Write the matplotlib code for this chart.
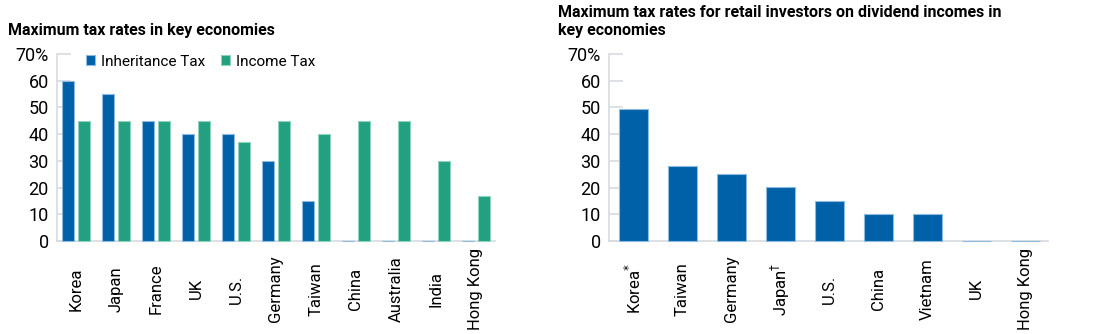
import matplotlib
matplotlib.use("Agg")
import matplotlib.pyplot as plt
import numpy as np

plt.rcParams["font.family"] = ["Roboto", "DejaVu Sans"]

# left panel data
countries_l = ["Korea", "Japan", "France", "UK", "U.S.", "Germany", "Taiwan",
               "China", "Australia", "India", "Hong Kong"]
inheritance = [60, 55, 45, 40, 40, 30, 15, 0, 0, 0, 0]
income = [45, 45, 45, 45, 37, 45, 40, 45, 45, 30, 17]

# right panel data
countries_r = ["Korea$^{*}$", "Taiwan", "Germany", "Japan$^{\\dagger}$", "U.S.",
               "China", "Vietnam", "UK", "Hong Kong"]
dividend = [49.5, 28, 25, 20.3, 15, 10, 10, 0, 0]

yticks = [0, 10, 20, 30, 40, 50, 60, 70]
ytick_labels = ["0", "10", "20", "30", "40", "50", "60", "70%"]

BLUE = "#0061a8"
GREEN = "#22a07f"
BLUE_EDGE = "#8dbbe0"
GREEN_EDGE = "#8fd3bf"
GRAY = "#d7dbe0"


def style_axis(ax):
    for s in ("top", "right"):
        ax.spines[s].set_visible(False)
    for s in ("left", "bottom"):
        ax.spines[s].set_color(GRAY)
        ax.spines[s].set_linewidth(1.2)
    ax.set_ylim(0, 70)
    ax.set_yticks(yticks)
    ax.set_yticklabels(ytick_labels)
    ax.tick_params(axis="y", direction="in", length=10, width=1.2, color=GRAY,
                   labelsize=13, pad=6)
    ax.tick_params(axis="x", length=0, labelsize=12, pad=34.5)
    for lbl in ax.get_xticklabels():
        lbl.set_rotation(90)
        lbl.set_va("center")
        lbl.set_ha("center")


fig = plt.figure(figsize=(11, 3.34), dpi=100)
ax1 = fig.add_axes([0.0518, 0.2784, 0.3982, 0.56])
ax2 = fig.add_axes([0.5536, 0.2784, 0.3991, 0.56])

x = np.arange(len(countries_l))
ax1.bar(x - 0.2, inheritance, width=0.3, color=BLUE, edgecolor=BLUE_EDGE,
        linewidth=0.8, label="Inheritance Tax", zorder=3, clip_on=False)
ax1.bar(x + 0.2, income, width=0.3, color=GREEN, edgecolor=GREEN_EDGE,
        linewidth=0.8, label="Income Tax", zorder=3, clip_on=False)
ax1.set_xlim(-0.475, len(countries_l) - 0.525)
ax1.set_xticks(x)
ax1.set_xticklabels(countries_l)
style_axis(ax1)
ax1.legend(loc="upper left", bbox_to_anchor=(0.035, 1.07), ncol=2, frameon=False,
           fontsize=11, handlelength=0.6, handleheight=0.6, handletextpad=0.4,
           columnspacing=1.0)

xr = np.arange(len(countries_r))
ax2.bar(xr, dividend, width=0.58, color=BLUE, edgecolor=BLUE_EDGE, linewidth=0.8,
        zorder=3, clip_on=False)
ax2.set_xlim(-0.5, len(countries_r) - 0.54)
ax2.set_xticks(xr)
ax2.set_xticklabels(countries_r)
style_axis(ax2)

fig.text(0.007, 0.91, "Maximum tax rates in key economies", fontsize=11.5,
         fontweight="bold", va="center", ha="left")
fig.text(0.507, 0.985, "Maximum tax rates for retail investors on dividend incomes in\nkey economies",
         fontsize=11.5, fontweight="bold", va="top", ha="left", linespacing=1.25)

fig.savefig("out.png", dpi=100)
